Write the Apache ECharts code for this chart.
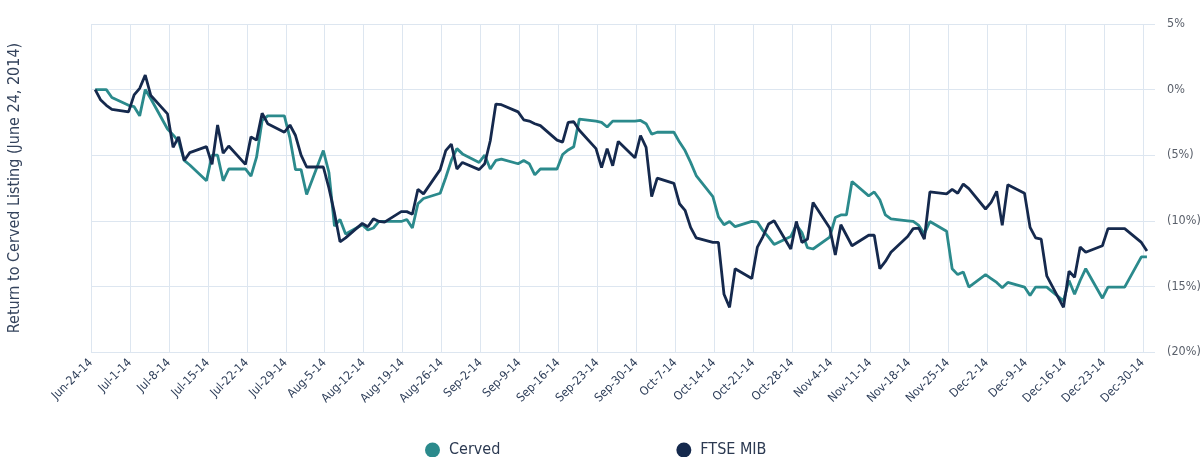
<!DOCTYPE html>
<html><head><meta charset="utf-8">
<script src="https://cdn.jsdelivr.net/npm/echarts@6/dist/echarts.min.js"></script>
<style>html,body{margin:0;padding:0;background:#fff}#c{width:1200px;height:457px}</style>
</head><body><div id="c"></div>
<script>
// Trading-day range (weekdays, Tue Jun 24 2014 .. Tue Dec 30 2014)
const START_DATE = '2014-06-24';
const END_DATE = '2014-12-30';
const seriesNames = ['Cerved', 'FTSE MIB'];
const yTickValues = [5, 0, -5, -10, -15, -20];
const monthNames = ['Jan','Feb','Mar','Apr','May','Jun','Jul','Aug','Sep','Oct','Nov','Dec'];

// Return to listing (%), one row per week (Mon..Fri; first week starts Tue, last ends Tue)
const cerved = [
  0, 0, 0, -0.6,
  -1.2, -1.3, -2.0, 0, -0.7,
  -3.0, -3.45, -3.95, -5.4, -5.75,
  -6.95, -5.0, -5.0, -6.95, -6.05,
  -6.05, -6.6, -5.15, -2.35, -2.0,
  -2.0, -3.7, -6.1, -6.1, -8.0,
  -4.65, -6.3, -10.4, -9.9, -11.0,
  -10.3, -10.7, -10.55, -10.05, -10.05,
  -10.05, -9.9, -10.55, -8.7, -8.3,
  -7.9, -6.7, -5.4, -4.5, -4.9,
  -5.55, -5.0, -6.05, -5.4, -5.3,
  -5.65, -5.4, -5.65, -6.5, -6.05,
  -6.05, -4.95, -4.6, -4.35, -2.25,
  -2.4, -2.5, -2.85, -2.4, -2.4,
  -2.4, -2.35, -2.6, -3.4, -3.25,
  -3.25, -4.0, -4.65, -5.55, -6.55,
  -8.15, -9.7, -10.3, -10.05, -10.45,
  -10.05, -10.1, -10.75, -11.25, -11.8,
  -11.2, -10.3, -10.9, -12.05, -12.15,
  -11.25, -9.75, -9.55, -9.55, -7.0,
  -8.1, -7.8, -8.4, -9.55, -9.85,
  -10.0, -10.05, -10.35, -11.0, -10.05,
  -10.8, -13.65, -14.1, -13.9, -15.05,
  -14.1, -14.4, -14.7, -15.1, -14.7,
  -15.05, -15.7, -15.05, -15.05, -15.05,
  -16.1, -14.55, -15.6, -14.55, -13.65,
  -15.9, -15.05, -15.05, -15.05, -15.05,
  -12.75, -12.75
];
const ftseMib = [
  0, -0.8, -1.2, -1.5,
  -1.7, -0.4, 0.1, 1.1, -0.45,
  -1.85, -4.4, -3.6, -5.4, -4.8,
  -4.35, -5.7, -2.7, -4.85, -4.3,
  -5.7, -3.6, -3.85, -1.8, -2.6,
  -3.25, -2.7, -3.5, -5.0, -5.9,
  -5.9, -7.5, -9.4, -11.6, -11.3,
  -10.2, -10.45, -9.85, -10.05, -10.1,
  -9.3, -9.3, -9.5, -7.6, -7.95,
  -6.1, -4.65, -4.15, -6.05, -5.55,
  -6.1, -5.65, -3.9, -1.1, -1.15,
  -1.7, -2.3, -2.4, -2.6, -2.75,
  -3.85, -4.0, -2.5, -2.45, -3.1,
  -4.5, -5.95, -4.5, -5.8, -3.95,
  -5.2, -3.5, -4.4, -8.15, -6.75,
  -7.15, -8.7, -9.2, -10.5, -11.3,
  -11.65, -11.65, -15.6, -16.6, -13.65,
  -14.4, -12.0, -11.2, -10.25, -10.0,
  -12.15, -10.05, -11.65, -11.4, -8.6,
  -10.55, -12.6, -10.3, -11.1, -11.9,
  -11.1, -11.1, -13.65, -13.1, -12.4,
  -11.2, -10.6, -10.55, -11.4, -7.8,
  -7.95, -7.6, -7.9, -7.2, -7.55,
  -9.1, -8.6, -7.75, -10.35, -7.25,
  -7.9, -10.5, -11.3, -11.4, -14.2,
  -16.6, -13.85, -14.3, -12.0, -12.4,
  -11.9, -10.6, -10.6, -10.6, -10.6,
  -11.65, -12.3
];

const DAY = 86400000;
const startMs = Date.parse(START_DATE + 'T00:00:00Z');
function weekdayOffsets(s, e) {
  const out = [];
  const endMs = Date.parse(e + 'T00:00:00Z');
  for (let t = Date.parse(s + 'T00:00:00Z'); t <= endMs; t += DAY) {
    const w = new Date(t).getUTCDay();
    if (w !== 0 && w !== 6) out.push((t - startMs) / DAY);
  }
  return out;
}
const dayOffsets = weekdayOffsets(START_DATE, END_DATE);
const PLOT_SHIFT = 0.75; // points sit slightly right of the date gridlines in the original
const toPairs = vals => vals.map((v, i) => [dayOffsets[i] + PLOT_SHIFT, v]);

function dateLabel(v) {
  if (Math.abs(v % 7) > 1e-6) return '';
  const d = new Date(startMs + v * DAY);
  return monthNames[d.getUTCMonth()] + '-' + d.getUTCDate() + '-' + String(d.getUTCFullYear()).slice(2);
}
function pctLabel(v) { return v >= 0 ? v + '%' : '(' + (-v) + '%)'; }

const FONT = "'Liberation Sans Narrow','DejaVu Sans Condensed','Roboto Condensed',sans-serif";
const GRID = '#dde6f0';
const COLORS = ['#2b8a8c', '#15294d'];

const chart = echarts.init(document.getElementById('c'), null, {renderer: 'canvas'});
chart.setOption({
  animation: false,
  backgroundColor: '#ffffff',
  color: COLORS,
  textStyle: {fontFamily: FONT},
  grid: {left: 91, right: 45, top: 24, bottom: 105, containLabel: false, outerBoundsMode: 'none'},
  legend: {
    data: seriesNames,
    top: 437, left: 420,
    icon: 'circle', itemWidth: 15, itemHeight: 15, itemGap: 176,
    textStyle: {fontFamily: FONT, fontSize: 16, color: '#2c3a52', padding: [0, 0, 0, 4]}
  },
  xAxis: {
    type: 'value', min: 0, max: 191.2, interval: 7,
    axisLine: {show: false}, axisTick: {show: false},
    splitLine: {show: true, showMinLine: true, showMaxLine: false, lineStyle: {color: GRID, width: 1}},
    axisLabel: {
      rotate: 45, margin: 9, fontSize: 12, color: '#2f3f5a', fontFamily: FONT,
      showMaxLabel: false, showMinLabel: true,
      formatter: dateLabel
    }
  },
  yAxis: [{
    type: 'value', position: 'right', min: -20, max: 5, interval: 5,
    axisLine: {show: false}, axisTick: {show: false},
    splitLine: {show: true, lineStyle: {color: GRID, width: 1}},
    axisLabel: {margin: 12, fontSize: 12.5, color: '#5a606b', fontFamily: FONT, formatter: pctLabel}
  }, {
    type: 'value', position: 'left', min: -20, max: 5, interval: 5,
    axisLine: {show: false}, axisTick: {show: false}, axisLabel: {show: false}, splitLine: {show: false},
    name: 'Return to Cerved Listing (June 24, 2014)',
    nameLocation: 'middle', nameRotate: 90, nameGap: 68,
    nameTextStyle: {fontFamily: FONT, fontSize: 16, color: '#34435c'}
  }],
  series: [
    {name: seriesNames[0], type: 'line', data: toPairs(cerved), showSymbol: false, symbol: 'circle',
     lineStyle: {width: 2.8, color: COLORS[0]}, itemStyle: {color: COLORS[0]}, z: 2},
    {name: seriesNames[1], type: 'line', data: toPairs(ftseMib), showSymbol: false, symbol: 'circle',
     lineStyle: {width: 2.8, color: COLORS[1]}, itemStyle: {color: COLORS[1]}, z: 3}
  ]
});
</script></body></html>
